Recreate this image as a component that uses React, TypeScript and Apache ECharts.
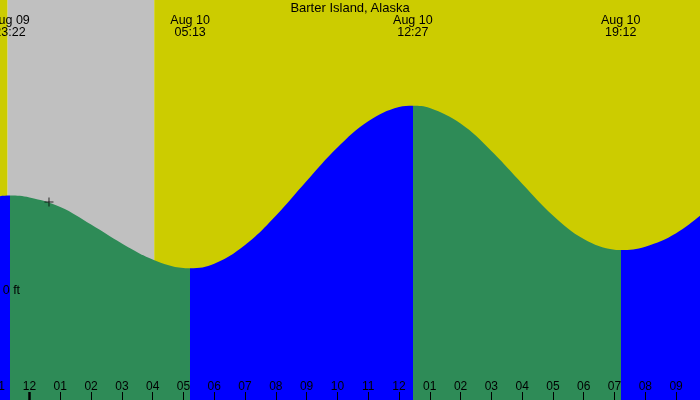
import React, { useEffect, useRef } from "react";
import * as echarts from "echarts";

const chartTitle = "Barter Island, Alaska";

// Tide curve (hours from Aug 10 00:00, feet)
const curveTimes = [-1, -0.633, 0, 1, 2, 3, 4, 5, 5.217, 6, 7, 8, 9, 10, 11, 12, 12.45, 13, 14, 15, 16, 17, 18, 19, 19.2, 20, 21, 22];
const curveHeights = [0.586, 0.59, 0.578, 0.519, 0.409, 0.291, 0.191, 0.1375, 0.136, 0.164, 0.281, 0.464, 0.681, 0.89, 1.054, 1.143, 1.152, 1.137, 1.04, 0.869, 0.664, 0.466, 0.319, 0.252, 0.25, 0.271, 0.354, 0.5];

// High / low tides
const extremeTimes = [-0.633, 5.217, 12.45, 19.2];
const extremeKinds = ["high", "low", "high", "low"];
const extremeDates = ["Aug 09", "Aug 10", "Aug 10", "Aug 10"];
const extremeClocks = ["23:22", "05:13", "12:27", "19:12"];

// Daylight / night bands
const bandStarts = [-1, -0.71, 4.05];
const bandEnds = [-0.71, 4.05, 22];
const bandKinds = ["day", "night", "day"];

// Hour tick labels for -1 .. 22
const tickLabels = ["11", "12", "01", "02", "03", "04", "05", "06", "07", "08", "09", "10", "11", "12", "01", "02", "03", "04", "05", "06", "07", "08", "09", "10"];
const midnightTicks = [0];
const heightLabelValues = [0];

// Current-time marker
const nowTimes = [0.633];
const nowHeights = [0.55];

const X_MIN = -1;
const X_MAX = 22;
const Y_MIN = -0.6875;
const Y_MAX = 1.8125;

const DAY = "#CCCC00";
const NIGHT = "#C0C0C0";
const RISING = "#0000FF";
const FALLING = "#2E8B57";
const FONT = "Liberation Sans";

const findExtreme = (v: number) => extremeTimes.findIndex((t) => Math.abs(t - v) < 0.01);

export default function App() {
  const ref = useRef<HTMLDivElement>(null);

  useEffect(() => {
    if (!ref.current) return;
    const chart = echarts.init(ref.current, null, { renderer: "svg" });

    const pieces: any[] = [];
    extremeTimes.forEach((t, i) => {
      const color = extremeKinds[i] === "high" ? RISING : FALLING;
      if (i === 0) pieces.push({ lt: t, color });
      else pieces.push({ gte: extremeTimes[i - 1], lt: t, color });
    });
    const lastIdx = extremeTimes.length - 1;
    pieces.push({
      gte: extremeTimes[lastIdx],
      color: extremeKinds[lastIdx] === "low" ? RISING : FALLING,
    });

    const curveData = curveTimes.map((t, i) => [t, curveHeights[i]]);
    const bandData = bandStarts.map((s, i) => [s, bandEnds[i], bandKinds[i] === "night" ? 1 : 0]);

    const baseAxis = {
      type: "value",
      min: X_MIN,
      max: X_MAX,
      z: 10,
      axisLine: { show: false, onZero: false },
      splitLine: { show: false },
    };

    const topLabel = (margin: number, fmt: (i: number) => string) => ({
      ...baseAxis,
      position: "top",
      axisTick: { show: false },
      axisLabel: {
        inside: true,
        margin,
        color: "#000",
        fontSize: 12.5,
        lineHeight: 12,
        fontFamily: FONT,
        customValues: extremeTimes,
        formatter: (v: number) => {
          const i = findExtreme(v);
          return i < 0 ? "" : fmt(i);
        },
      },
    });

    chart.setOption({
      animation: false,
      textStyle: { fontFamily: FONT },
      title: {
        text: chartTitle,
        left: "center",
        top: 1,
        padding: 0,
        textStyle: { fontSize: 13, fontWeight: "normal", color: "#000", fontFamily: FONT },
      },
      grid: {
        left: -1.29,
        top: 0,
        width: 708.2,
        height: 400,
        containLabel: false,
        outerBoundsMode: "none",
      },
      xAxis: [
        {
          ...baseAxis,
          position: "bottom",
          interval: 1,
          axisTick: { show: true, inside: true, length: 8, lineStyle: { color: "#000", width: 1 } },
          axisLabel: {
            inside: true,
            margin: 8,
            color: "#000",
            fontSize: 12,
            fontFamily: FONT,
            showMinLabel: true,
            showMaxLabel: true,
            formatter: (v: number) => tickLabels[Math.round(v) - X_MIN] ?? "",
          },
        },
        {
          ...baseAxis,
          position: "bottom",
          axisTick: {
            show: true,
            inside: true,
            length: 8,
            customValues: midnightTicks,
            lineStyle: { color: "#000", width: 2.5 },
          },
          axisLabel: { show: false },
        },
        topLabel(13.5, (i) => extremeDates[i]),
        topLabel(25.7, (i) => extremeClocks[i]),
      ],
      yAxis: {
        type: "value",
        min: Y_MIN,
        max: Y_MAX,
        z: 10,
        axisLine: { show: false, onZero: false },
        axisTick: { show: false },
        splitLine: { show: false },
        axisLabel: {
          inside: true,
          margin: 4,
          color: "#000",
          fontSize: 12.5,
          fontFamily: FONT,
          customValues: heightLabelValues,
          formatter: (v: number) => `${v} ft`,
        },
      },
      visualMap: {
        show: false,
        type: "piecewise",
        dimension: 0,
        seriesIndex: 1,
        pieces,
      },
      series: [
        {
          type: "custom",
          z: 1,
          xAxisIndex: 0,
          encode: { x: [0, 1] },
          data: bandData,
          clip: false,
          renderItem: (params: any, api: any) => {
            const s = api.coord([api.value(0), 0]);
            const e = api.coord([api.value(1), 0]);
            const cs = params.coordSys;
            return {
              type: "rect",
              shape: { x: s[0], y: cs.y, width: e[0] - s[0], height: cs.height },
              style: { fill: api.value(2) === 1 ? NIGHT : DAY },
            };
          },
        },
        {
          type: "line",
          z: 2,
          xAxisIndex: 0,
          data: curveData,
          smooth: 0.4,
          showSymbol: false,
          symbol: "none",
          lineStyle: { width: 0 },
          areaStyle: { opacity: 1, origin: "start" },
        },
        {
          type: "scatter",
          z: 3,
          xAxisIndex: 0,
          data: nowTimes.map((t, i) => [t, nowHeights[i]]),
          symbol: "path://M0,5L10,5M5,0L5,10",
          symbolSize: 9,
          itemStyle: { color: "transparent", borderColor: "#000", borderWidth: 1 },
        },
      ],
    });

    return () => chart.dispose();
  }, []);

  return (
    <div
      ref={ref}
      style={{ position: "fixed", left: 0, top: 0, width: 700, height: 400 }}
    />
  );
}
